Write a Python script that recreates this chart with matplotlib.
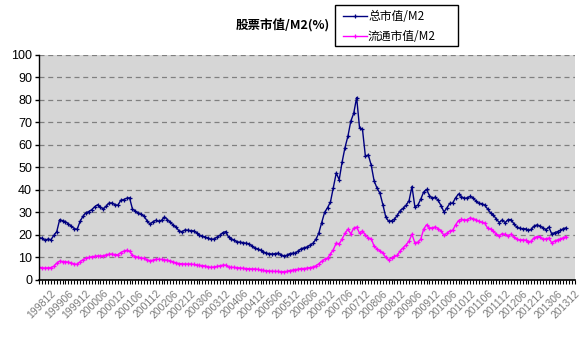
"""股票市值/M2(%) — 总市值 vs 流通市值, 月度, 1998-08 ~ 2013-09."""
import numpy as np
import matplotlib
matplotlib.use("Agg")
import matplotlib.pyplot as plt
from matplotlib.ticker import FixedLocator, MultipleLocator

CJK = ["Noto Sans CJK SC", "DejaVu Sans"]
plt.rcParams["font.family"] = ["Liberation Sans", "DejaVu Sans"]
plt.rcParams["axes.unicode_minus"] = False

TITLE = "股票市值/M2(%)"
SERIES_NAMES = ["总市值/M2", "流通市值/M2"]

# 总市值/M2 (%), monthly from 1998-08
total = [
    18.8, 18.5, 17.6, 18.2, 17.9, 19.8, 21.5, 26.8, 26.3, 25.9, 24.9, 23.9,
    22.8, 22.5, 26.0, 28.3, 29.8, 30.4, 31.2, 32.5, 33.4, 32.4, 31.5, 32.8,
    34.2, 34.2, 33.4, 33.2, 35.4, 35.7, 36.3, 36.5, 31.5, 30.6, 29.6, 29.2,
    28.3, 26.3, 24.8, 25.8, 26.5, 26.0, 26.5, 28.0, 26.8, 25.6, 24.4, 23.4,
    21.8, 21.4, 22.2, 22.1, 21.9, 21.8, 21.0, 19.9, 19.5, 19.0, 18.6, 18.1,
    18.2, 19.0, 19.8, 21.0, 21.5, 19.1, 18.3, 17.6, 16.9, 16.8, 16.6, 16.3,
    16.1, 15.2, 14.2, 13.8, 13.2, 12.5, 11.9, 11.7, 11.5, 11.7, 11.9, 11.3,
    10.6, 11.0, 11.7, 11.9, 11.9, 13.0, 13.9, 14.3, 14.7, 15.5, 16.3, 18.0,
    20.8, 25.5, 30.0, 32.1, 34.6, 41.0, 47.5, 44.5, 52.3, 58.8, 63.8, 70.5,
    74.0, 81.0, 67.5, 66.9, 55.0, 55.5, 51.0, 44.0, 40.8, 38.5, 33.5, 28.0,
    26.0, 26.3, 27.0, 28.8, 30.8, 31.8, 33.2, 35.2, 41.5, 32.5, 33.2, 35.8,
    39.0, 40.2, 37.5, 36.2, 36.8, 35.3, 33.0, 30.2, 32.0, 34.0, 34.2, 36.5,
    38.2, 37.0, 36.2, 36.5, 37.1, 36.5, 35.0, 34.0, 33.9, 33.2, 31.5, 29.8,
    28.8, 27.0, 25.5, 26.7, 25.4, 26.8, 26.8, 25.0, 23.5, 22.9, 22.8, 22.7,
    22.0, 22.5, 24.0, 24.5, 23.9, 23.2, 22.3, 23.5, 20.5, 21.0, 21.5, 22.0,
    22.8, 23.2,
]

# 流通市值/M2 (%), monthly from 1998-08
floating = [
    5.6, 5.4, 5.3, 5.4, 5.5, 6.1, 7.5, 8.4, 8.2, 8.1, 7.9, 7.6,
    7.1, 7.0, 8.1, 9.0, 9.7, 10.0, 10.3, 10.5, 10.7, 10.7, 10.7, 11.2,
    11.5, 11.5, 11.3, 11.2, 12.2, 12.8, 13.2, 12.7, 11.0, 10.4, 10.0, 9.8,
    9.6, 9.0, 8.6, 8.8, 9.2, 9.2, 9.1, 9.0, 8.8, 8.5, 8.0, 7.6,
    7.3, 7.2, 7.1, 7.1, 7.1, 6.9, 6.7, 6.5, 6.4, 6.2, 5.9, 5.6,
    5.8, 6.0, 6.3, 6.6, 6.6, 5.8, 5.6, 5.6, 5.5, 5.3, 5.2, 5.1,
    5.0, 4.9, 4.9, 4.7, 4.5, 4.3, 4.1, 4.0, 3.9, 3.8, 3.8, 3.7,
    3.7, 3.8, 4.2, 4.4, 4.6, 4.8, 5.1, 5.1, 5.3, 5.5, 5.8, 6.3,
    7.2, 8.3, 9.2, 9.8, 11.5, 13.5, 16.4, 16.0, 18.2, 20.7, 22.5, 20.5,
    23.0, 23.5, 20.8, 21.8, 20.0, 18.6, 18.4, 15.0, 13.8, 13.0, 12.0, 10.0,
    9.0, 9.8, 10.5, 11.0, 13.0, 14.3, 15.6, 17.3, 20.3, 16.5, 16.8, 18.0,
    22.5, 24.5, 23.2, 23.1, 23.6, 22.8, 21.8, 19.8, 20.8, 21.8, 22.1, 24.5,
    26.4, 26.9, 26.7, 26.7, 27.6, 27.2, 26.8, 26.0, 25.6, 25.2, 23.0, 22.6,
    21.7, 20.3, 19.6, 20.6, 20.2, 19.6, 20.3, 19.0, 18.2, 17.8, 17.8, 17.7,
    17.0, 17.2, 18.8, 19.3, 19.2, 18.0, 18.3, 18.6, 16.5, 17.3, 17.8, 18.2,
    18.8, 19.3,
]

# 半年一个标签, 首个标签落在 1998-12 (index 4)
tick_labels = [f"{y}{m}" for y in range(1998, 2014) for m in ("06", "12")][1:]
tick_pos = [4 + 6 * k for k in range(len(tick_labels))]


def main() -> None:
    fig = plt.figure(figsize=(5.83, 3.41), dpi=100)
    ax = fig.add_axes([39 / 583, 1 - 280 / 341, 536 / 583, (280 - 54.7) / 341])
    ax.set_facecolor("#d6d6d6")

    x = np.arange(len(total))
    ax.plot(x, total, color="#000080", lw=1.0, marker="+", ms=3.5, mew=0.9)
    ax.plot(x, floating, color="#ff00ff", lw=1.0, marker="+", ms=3.5, mew=0.9)

    ax.set_xlim(-0.1, tick_pos[-1])
    ax.set_ylim(0, 100)
    ax.yaxis.set_major_locator(MultipleLocator(10))
    ax.grid(axis="y", color="#808080", ls=(0, (4, 3)), lw=0.9)
    ax.set_axisbelow(True)

    for side in ("top", "right"):
        ax.spines[side].set_visible(False)
    ax.spines["left"].set_linewidth(1.0)
    ax.spines["bottom"].set_linewidth(1.2)

    ax.tick_params(axis="y", direction="out", length=3, width=1, labelsize=9, pad=2)
    ax.xaxis.set_major_locator(FixedLocator(tick_pos))
    ax.xaxis.set_minor_locator(MultipleLocator(1))
    ax.set_xticklabels(tick_labels, rotation=45, ha="right", va="top",
                       rotation_mode="anchor", fontsize=7.5, color="#7a7a7a")
    ax.tick_params(axis="x", which="both", direction="out", length=3, width=0.8, pad=3)

    fig.text(236 / 583, 1 - 25 / 341, TITLE, fontsize=9, fontweight="bold",
             family=CJK, ha="left", va="center")

    # 图例: 右上方黑框
    leg_x0, leg_x1 = 335 / 583, 458 / 583
    leg_y0, leg_y1 = 1 - 46 / 341, 1 - 5 / 341
    fig.patches.append(plt.Rectangle((leg_x0, leg_y0), leg_x1 - leg_x0, leg_y1 - leg_y0,
                                     transform=fig.transFigure, fill=False,
                                     edgecolor="black", lw=1.0))
    for name, color, ypx in zip(SERIES_NAMES, ["#000080", "#ff00ff"], [16, 36]):
        yy = 1 - ypx / 341
        fig.add_artist(plt.Line2D([343 / 583, 367 / 583], [yy, yy], color=color, lw=1.0,
                                  transform=fig.transFigure))
        fig.add_artist(plt.Line2D([355 / 583], [yy], color=color, marker="+", ms=3.5,
                                  mew=0.9, transform=fig.transFigure))
        fig.text(368 / 583, yy, name, fontsize=8.5, family=CJK, ha="left", va="center")

    fig.savefig("out.png", dpi=100)


if __name__ == "__main__":
    main()
